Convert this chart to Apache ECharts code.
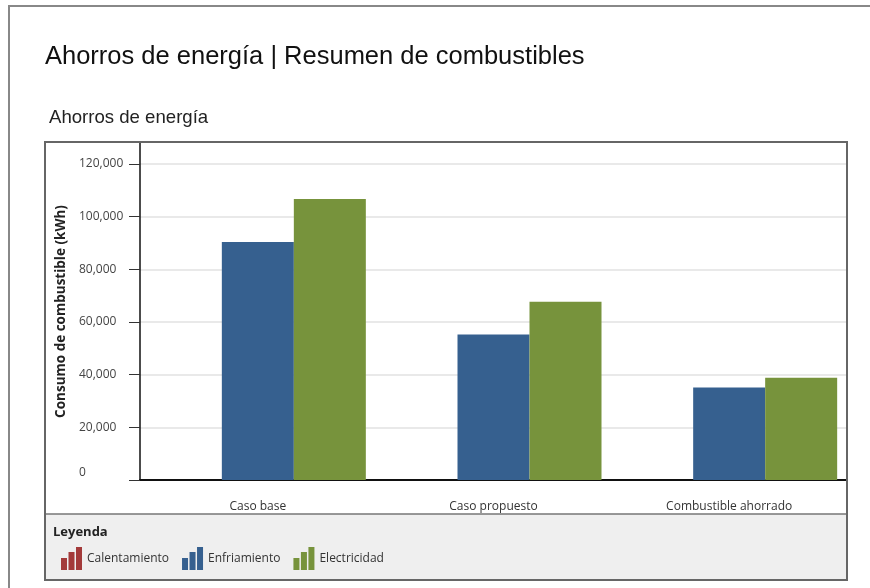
<!DOCTYPE html>
<html>
<head>
<meta charset="utf-8">
<script src="https://cdn.jsdelivr.net/npm/echarts@6/dist/echarts.min.js"></script>
<style>
  html, body { margin: 0; padding: 0; background: #fff; }
  #chart { width: 870px; height: 588px; }
</style>
</head>
<body>
<div id="chart"></div>
<script>
/* Ahorros de energía: consumo por caso */

const categories = ['Caso base', 'Caso propuesto', 'Combustible ahorrado'];
const seriesNames = ['Calentamiento', 'Enfriamiento', 'Electricidad'];
const calentamiento = [0, 0, 0];
const enfriamiento = [90400, 55300, 35100];
const electricidad = [106700, 67700, 38800];
const yTicks = [0, 20000, 40000, 60000, 80000, 100000, 120000];

const colors = ['#a33a3a', '#36608f', '#77933c'];
const uiFont = '"Open Sans", "Noto Sans", sans-serif';
const barsIcon = 'path://M0,11 h6 v12 h-6 Z M7.5,5 h6 v18 h-6 Z M15,0 h6 v23 h-6 Z';

function fmt(v) {
    return v.toString().replace(/\B(?=(\d{3})+(?!\d))/g, ',');
}

let title = [{
    text: 'Ahorros de energía | Resumen de combustibles',
    left: 45,
    top: 44,
    padding: 0,
    textStyle: { fontFamily: '"Liberation Sans", Arial, sans-serif', fontSize: 25.5, fontWeight: 'normal', color: '#111' }
}, {
    text: 'Ahorros de energía',
    left: 49,
    top: 108,
    padding: 0,
    textStyle: { fontFamily: '"Liberation Sans", Arial, sans-serif', fontSize: 18.6, fontWeight: 'normal', color: '#222' }
}];

let graphic = [
    // marco exterior
    { type: 'rect', shape: { x: 9, y: 6, width: 1000, height: 700 }, style: { fill: 'none', stroke: '#888', lineWidth: 2 }, z: -1 },
    // fondo leyenda
    { type: 'rect', shape: { x: 45, y: 514, width: 802, height: 66 }, style: { fill: '#efefef', stroke: '#777', lineWidth: 1.5 }, z: -1 },
    // caja del grafico
    { type: 'rect', shape: { x: 45, y: 142, width: 802, height: 438 }, style: { fill: 'none', stroke: '#666', lineWidth: 2 }, z: 10 },
    { type: 'text', left: 53, top: 526, style: { text: 'Leyenda', font: 'bold 13px "Open Sans", sans-serif', fill: '#222' } }
];

let series = [calentamiento, enfriamiento, electricidad].map((d, i) => ({
    type: 'bar',
    name: seriesNames[i],
    data: d,
    barWidth: 72,
    barGap: '0%',
    itemStyle: { color: colors[i] }
}));

let option = {
    animation: false,
    backgroundColor: '#fff',
    color: colors,
    title: title,
    graphic: graphic,
    grid: { left: 140, right: 23, top: 143, bottom: 108 },
    legend: {
        left: 61,
        top: 547,
        padding: 0,
        icon: barsIcon,
        itemWidth: 21,
        itemHeight: 23,
        itemGap: 13,
        textStyle: { fontFamily: uiFont, fontSize: 12, color: '#333' },
        data: seriesNames
    },
    xAxis: {
        type: 'category',
        data: categories,
        axisLine: { lineStyle: { color: '#111', width: 2 } },
        axisTick: { alignWithLabel: true, length: 8, lineStyle: { color: '#333' } },
        axisLabel: { margin: 21, fontFamily: uiFont, fontSize: 12, color: '#333' }
    },
    yAxis: {
        type: 'value',
        min: 0,
        max: 128000,
        interval: 20000,
        name: 'Consumo de combustible (kWh)',
        nameLocation: 'middle',
        nameGap: 69,
        nameTextStyle: { fontFamily: uiFont, fontSize: 13.5, fontWeight: 'bold', color: '#222' },
        axisLine: { show: true, lineStyle: { color: '#111', width: 1.5 } },
        axisTick: { show: true, length: 11, customValues: yTicks, lineStyle: { color: '#333' } },
        axisLabel: {
            margin: 61,
            align: 'left',
            customValues: yTicks,
            fontFamily: uiFont,
            fontSize: 12,
            color: '#444',
            formatter: v => (v === 0 ? '{z|0}' : fmt(v)),
            rich: { z: { fontFamily: uiFont, fontSize: 12, color: '#444', padding: [0, 0, 14, 0] } }
        },
        splitLine: { lineStyle: { color: '#e2e2e2', width: 1.5 } }
    },
    series: series
};

let chart = echarts.init(document.getElementById('chart'), null, { renderer: 'canvas' });
chart.setOption(option);
</script>
</body>
</html>
